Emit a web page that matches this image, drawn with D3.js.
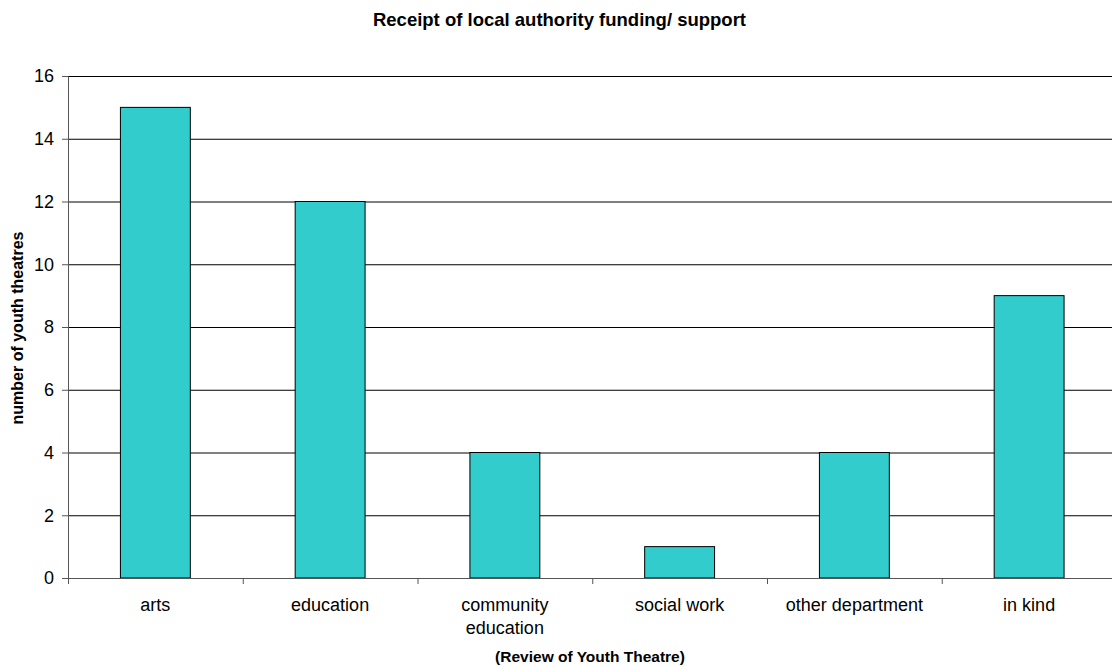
<!DOCTYPE html>
<html>
<head>
<meta charset="utf-8">
<script src="https://cdn.jsdelivr.net/npm/d3@7"></script>
<style>
  body { margin: 0; background: #fff; }
  text { font-family: "Liberation Sans", Arial, sans-serif; fill: #000; }
</style>
</head>
<body>
<script>
const categories = [["arts"], ["education"], ["community", "education"], ["social work"], ["other department"], ["in kind"]];
const values = [15, 12, 4, 1, 4, 9];
const yTicks = [0, 2, 4, 6, 8, 10, 12, 14, 16];

const width = 1112, height = 667;
const plotLeft = 68, plotRight = 1116.5, plotTop = 76, plotBottom = 578;

const svg = d3.select('body').append('svg')
    .attr('width', width)
    .attr('height', height);

const keys = categories.map(c => c.join(' '));

const x = d3.scaleBand()
    .domain(keys)
    .range([plotLeft, plotRight])
    .paddingInner(0.6)
    .paddingOuter(0.3);

const y = d3.scaleLinear()
    .domain([0, 16])
    .range([plotBottom, plotTop]);

// gridlines
svg.append('g')
    .selectAll('line')
    .data(yTicks.filter(d => d > 0))
    .enter()
    .append('line')
    .attr('x1', plotLeft)
    .attr('x2', plotRight)
    .attr('y1', d => y(d) + 0.5)
    .attr('y2', d => y(d) + 0.5)
    .attr('stroke', '#000')
    .attr('stroke-width', 1);

// bars
svg.append('g')
    .selectAll('rect')
    .data(values)
    .enter()
    .append('rect')
    .attr('x', (d, i) => x(keys[i]))
    .attr('y', d => y(d))
    .attr('width', x.bandwidth())
    .attr('height', d => plotBottom - y(d))
    .attr('fill', '#33CCCC')
    .attr('stroke', '#000')
    .attr('stroke-width', 1);

// y axis
const yAxis = svg.append('g')
    .attr('transform', `translate(${plotLeft},0)`)
    .call(d3.axisLeft(y).tickValues(yTicks).tickSize(6).tickPadding(8).tickSizeOuter(0));
yAxis.select('.domain').attr('stroke', '#555');
yAxis.selectAll('.tick line').attr('stroke', '#555');
yAxis.selectAll('.tick text')
    .style('font-size', '18px')
    .style('font-family', '"Liberation Sans", Arial, sans-serif');

// x axis with ticks between categories
const bounds = d3.range(0, keys.length + 1).map(i => plotLeft + i * (plotRight - plotLeft) / keys.length);
const xg = svg.append('g');
xg.append('line')
    .attr('x1', plotLeft).attr('x2', plotRight)
    .attr('y1', plotBottom + 0.5).attr('y2', plotBottom + 0.5)
    .attr('stroke', '#555');
xg.selectAll('line.tk')
    .data(bounds)
    .enter()
    .append('line')
    .attr('class', 'tk')
    .attr('x1', d => d + 0.5).attr('x2', d => d + 0.5)
    .attr('y1', plotBottom).attr('y2', plotBottom + 6)
    .attr('stroke', '#555');

const labels = xg.selectAll('text.cat')
    .data(categories)
    .enter()
    .append('text')
    .attr('class', 'cat')
    .attr('text-anchor', 'middle')
    .style('font-size', '18px');
labels.selectAll('tspan')
    .data((d, i) => d.map(t => ({ t, i })))
    .enter()
    .append('tspan')
    .attr('x', d => x(keys[d.i]) + x.bandwidth() / 2)
    .attr('y', (d, j) => 611 + j * 23)
    .text(d => d.t);

// titles
svg.append('text')
    .attr('x', 559.5)
    .attr('y', 26)
    .attr('text-anchor', 'middle')
    .style('font-size', '18.5px')
    .style('font-weight', 'bold')
    .text('Receipt of local authority funding/ support');

svg.append('text')
    .attr('x', 590)
    .attr('y', 662)
    .attr('text-anchor', 'middle')
    .style('font-size', '15.5px')
    .style('font-weight', 'bold')
    .text('(Review of Youth Theatre)');

svg.append('text')
    .attr('transform', 'translate(23,328) rotate(-90)')
    .attr('text-anchor', 'middle')
    .style('font-size', '16px')
    .style('font-weight', 'bold')
    .text('number of youth theatres');
</script>
</body>
</html>
